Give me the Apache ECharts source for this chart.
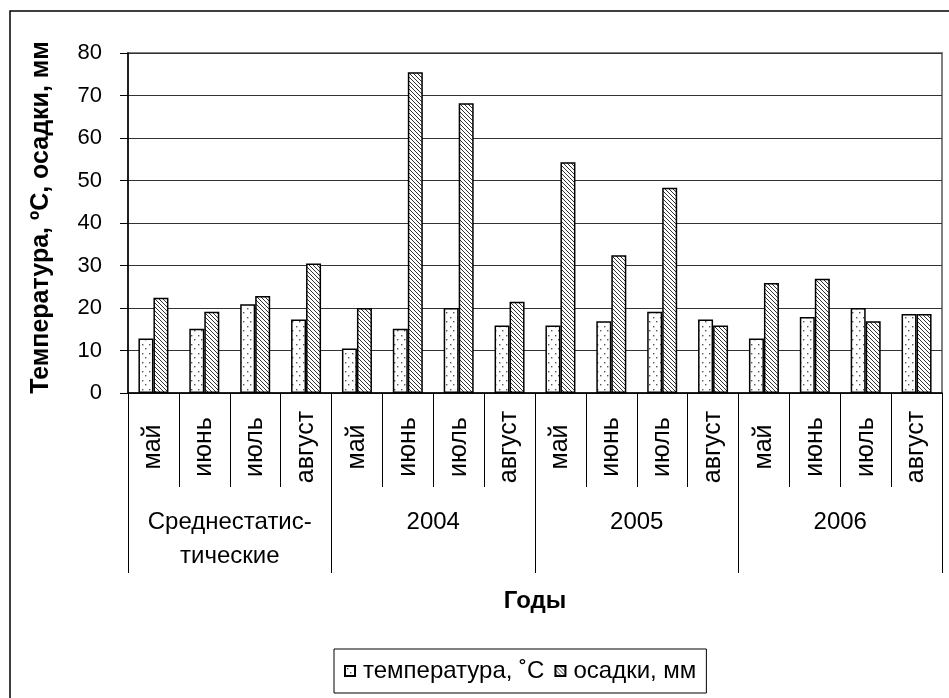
<!DOCTYPE html>
<html>
<head>
<meta charset="utf-8">
<script src="https://cdn.jsdelivr.net/npm/echarts@6/dist/echarts.min.js"></script>
<style>
  html, body { margin: 0; padding: 0; background: #fff; }
  #chart { width: 949px; height: 698px; }
</style>
</head>
<body>
<div id="chart"></div>
<script>
// Periods shown along the bottom, and the months inside each period
const periods = ['Среднестатис-\nтические', '2004', '2005', '2006'];
const months = ['май', 'июнь', 'июль', 'август'];

// Mean monthly air temperature, °C
const temperature = [12.8, 15.1, 20.9, 17.3, 10.5, 15.1, 20.0, 15.9, 15.9, 16.9, 19.1, 17.3, 12.8, 17.9, 20.0, 18.6];
// Monthly precipitation, mm
const precipitation = [22.4, 19.1, 22.8, 30.5, 20.0, 75.5, 68.2, 21.5, 54.3, 32.4, 48.3, 15.9, 25.9, 26.9, 16.9, 18.6];

// Value axis ticks
const yTicks = { min: 0, max: 80, interval: 10 };

const seriesNames = ['температура, ˚C', 'осадки, мм'];

// One month label per bar group
const monthCategories = periods.flatMap(() => months);

const FONT = "'Liberation Sans', Arial, sans-serif";

// Dotted fill for temperature bars
function dotPattern() {
  const c = document.createElement('canvas');
  c.width = 7; c.height = 9;
  const g = c.getContext('2d');
  g.fillStyle = '#fff';
  g.fillRect(0, 0, 7, 9);
  g.fillStyle = '#555';
  g.fillRect(2, 2, 1.4, 1.4);
  g.fillRect(5, 6, 1.4, 1.4);
  return c;
}

// Diagonal hatch fill for precipitation bars
function hatchPattern() {
  const s = 4;
  const c = document.createElement('canvas');
  c.width = s; c.height = s;
  const g = c.getContext('2d');
  g.fillStyle = '#fff';
  g.fillRect(0, 0, s, s);
  g.strokeStyle = '#333';
  g.lineWidth = 1;
  g.beginPath();
  g.moveTo(-1, -1); g.lineTo(s + 1, s + 1);
  g.moveTo(-1, s - 1); g.lineTo(1, s + 1);
  g.moveTo(s - 1, -1); g.lineTo(s + 1, 1);
  g.stroke();
  return c;
}

const chart = echarts.init(document.getElementById('chart'), null, { renderer: 'canvas' });

const option = {
  backgroundColor: '#fff',
  animation: false,
  textStyle: { fontFamily: FONT, color: '#000' },
  graphic: [{
    type: 'rect',
    shape: { x: 10, y: 11, width: 1000, height: 1000 },
    style: { fill: 'none', stroke: '#000', lineWidth: 1.5 },
    silent: true,
    z: -10
  }],
  grid: {
    left: 128, right: 7, top: 53, bottom: 305,
    show: true,
    borderColor: '#808080',
    borderWidth: 2,
    backgroundColor: 'transparent'
  },
  legend: {
    left: 334, top: 649,
    padding: [10, 10, 10, 10],
    itemWidth: 10, itemHeight: 10,
    itemGap: 10,
    borderColor: '#000',
    borderWidth: 1,
    icon: 'rect',
    textStyle: { fontFamily: FONT, fontSize: 24, color: '#000', padding: [0, 0, 0, 3] },
    data: seriesNames
  },
  xAxis: [
    {
      type: 'category',
      data: monthCategories,
      position: 'bottom',
      axisLine: { show: true, lineStyle: { color: '#000', width: 1.5 } },
      axisTick: { show: true, interval: 0, length: 94, lineStyle: { color: '#000', width: 1 } },
      axisLabel: {
        interval: 0, rotate: 90, align: 'center', verticalAlign: 'middle',
        margin: 54, fontSize: 25, color: '#000', fontFamily: FONT
      },
      splitLine: { show: false }
    },
    {
      type: 'category',
      data: periods,
      position: 'bottom',
      axisLine: { show: false },
      axisTick: { show: true, interval: 0, length: 180, lineStyle: { color: '#000', width: 1 } },
      axisLabel: {
        interval: 0, margin: 112, fontSize: 24, lineHeight: 34,
        color: '#000', fontFamily: FONT, verticalAlign: 'top'
      },
      splitLine: { show: false },
      name: 'Годы',
      nameLocation: 'middle',
      nameGap: 196,
      nameTextStyle: { fontSize: 24, fontWeight: 'bold', color: '#000', fontFamily: FONT, verticalAlign: 'top' }
    }
  ],
  yAxis: {
    type: 'value',
    min: yTicks.min, max: yTicks.max, interval: yTicks.interval,
    axisLine: { show: true, lineStyle: { color: '#000', width: 1.5 } },
    axisTick: { show: true, inside: false, length: 8, lineStyle: { color: '#000' } },
    axisLabel: { fontSize: 22, color: '#000', margin: 26, fontFamily: FONT },
    splitLine: { show: true, lineStyle: { color: '#333', width: 1 } },
    name: 'Температура, ºС, осадки, мм',
    nameLocation: 'middle',
    nameGap: 74,
    nameTextStyle: { fontSize: 25, fontWeight: 'bold', color: '#000', fontFamily: FONT, padding: [0, 0, 0, 11] }
  },
  series: [
    {
      name: seriesNames[0],
      type: 'bar',
      xAxisIndex: 0,
      data: temperature,
      barWidth: 15,
      barGap: '0%',
      itemStyle: {
        color: { image: dotPattern(), repeat: 'repeat' },
        borderColor: '#000',
        borderWidth: 1.5
      }
    },
    {
      name: seriesNames[1],
      type: 'bar',
      xAxisIndex: 0,
      data: precipitation,
      barWidth: 15,
      barGap: '0%',
      itemStyle: {
        color: { image: hatchPattern(), repeat: 'repeat' },
        borderColor: '#000',
        borderWidth: 1.5
      }
    }
  ]
};

chart.setOption(option);
</script>
</body>
</html>
